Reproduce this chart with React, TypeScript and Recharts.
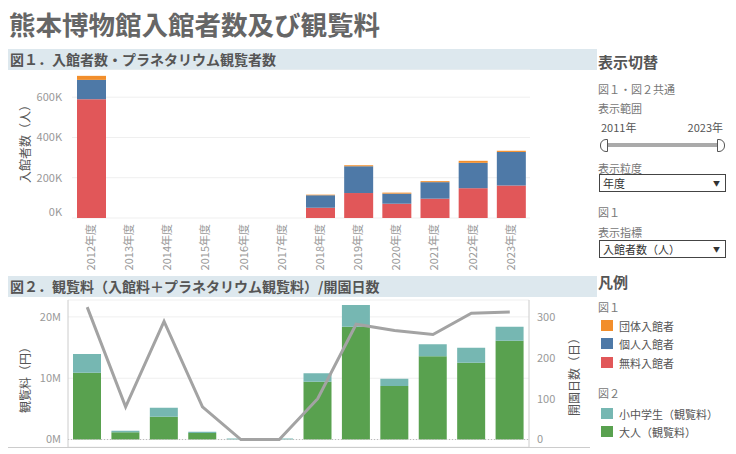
import React from 'react';
import {
  BarChart, Bar, XAxis, YAxis, CartesianGrid, ComposedChart, Line, ReferenceLine,
} from 'recharts';

const years = ['2012年度', '2013年度', '2014年度', '2015年度', '2016年度', '2017年度', '2018年度', '2019年度', '2020年度', '2021年度', '2022年度', '2023年度'];

// 図1 (people)
const freeVisitors = [590000, 0, 0, 0, 0, 0, 51000, 124000, 71000, 96000, 148000, 161000];
const individualVisitors = [96000, 0, 0, 0, 0, 0, 62000, 133000, 50000, 82000, 126000, 167000];
const groupVisitors = [20000, 0, 0, 0, 0, 0, 3000, 5000, 5000, 5000, 10000, 6000];

// 図2 (yen, days)
const adultFees = [10900000, 1170000, 3720000, 1060000, 0, 0, 9430000, 18400000, 8730000, 13600000, 12530000, 16100000];
const childFees = [3050000, 270000, 1470000, 210000, 150000, 150000, 1370000, 3540000, 1190000, 1960000, 2450000, 2300000];
const openDays = [324, 80, 289, 80, 0, 0, 100, 282, 267, 257, 309, 312];

const visitorTicks = [0, 200000, 400000, 600000];
const feeTicks = [0, 10000000, 20000000];
const dayTicks = [0, 100, 200, 300];

const C_ORANGE = '#f28e2b';
const C_BLUE = '#4e79a7';
const C_RED = '#e15759';
const C_TEAL = '#76b7b2';
const C_GREEN = '#59a14f';
const C_LINE = '#a3a3a3';

const FONT = '"Noto Sans CJK JP", "Noto Sans", sans-serif';

const data1 = years.map((y, i) => ({
  year: y,
  free: freeVisitors[i],
  individual: individualVisitors[i],
  group: groupVisitors[i],
}));

const data2 = years.map((y, i) => ({
  year: y,
  adult: adultFees[i],
  child: childFees[i],
  days: openDays[i],
}));

const RotTick = (props: any) => {
  const { x, y, payload, off } = props;
  const yy = y + (off || 0);
  return (
    <text
      x={x}
      y={yy}
      transform={`rotate(-90, ${x}, ${yy})`}
      textAnchor="end"
      dy="0.35em"
      fontSize={11}
      fill="#999"
      fontFamily={FONT}
    >
      {payload.value}
    </text>
  );
};

const KTick = (props: any) => {
  const { x, y, payload } = props;
  const v = payload.value as number;
  return (
    <text x={x} y={v === 0 ? y - 6 : y} textAnchor="end" dy="0.35em" fontSize={11} fill="#999" fontFamily={FONT}>
      {`${v / 1000}K`}
    </text>
  );
};

const abs = (left: number, top: number, extra: any = {}) => ({
  position: 'absolute' as const,
  left,
  top,
  ...extra,
});

const Band = ({ top, text }: { top: number; text: string }) => (
  <div style={abs(8, top, { width: 589, height: 21, background: '#dde8ee' })}>
    <div style={{ position: 'absolute', left: 2, top: 0, lineHeight: '21px', fontSize: 14, fontWeight: 700, color: '#555', whiteSpace: 'nowrap' }}>{text}</div>
  </div>
);

const VLabel = ({ cx, cy, text }: { cx: number; cy: number; text: string }) => (
  <div
    style={abs(cx - 60, cy - 8, {
      width: 120,
      height: 16,
      lineHeight: '16px',
      textAlign: 'center',
      fontSize: 12,
      color: '#555',
      transform: 'rotate(-90deg)',
      whiteSpace: 'nowrap',
    })}
  >
    {text}
  </div>
);

const Small = ({ left, top, text, size = 11, color = '#777', bold = false }: any) => (
  <div style={abs(left, top, { fontSize: size, color, fontWeight: bold ? 700 : 400, whiteSpace: 'nowrap', lineHeight: '16px' })}>{text}</div>
);

const Dropdown = ({ top, text }: { top: number; text: string }) => (
  <div style={abs(599, top, { width: 125, height: 16, border: '1px solid #444', background: '#fff' })}>
    <div style={{ position: 'absolute', left: 3, top: 0, fontSize: 11, lineHeight: '16px', color: '#333', whiteSpace: 'nowrap' }}>{text}</div>
    <div style={{ position: 'absolute', right: 5, top: 0, fontSize: 7, lineHeight: '16px', color: '#333' }}>▼</div>
  </div>
);

const Swatch = ({ top, color, text }: { top: number; color: string; text: string }) => (
  <>
    <div style={abs(601, top - 6, { width: 12, height: 11, background: color })} />
    <div style={abs(619, top - 8, { fontSize: 11, color: '#555', lineHeight: '16px', whiteSpace: 'nowrap' })}>{text}</div>
  </>
);

export default function App() {
  return (
    <div style={{ position: 'absolute', left: 0, top: 0, width: 736, height: 454, overflow: 'hidden', background: '#fff', fontFamily: FONT }}>
      {/* Title */}
      <div style={abs(9, 6, { fontSize: 26.5, fontWeight: 700, color: '#666', lineHeight: '36px', whiteSpace: 'nowrap' })}>
        熊本博物館入館者数及び観覧料
      </div>

      <Band top={49} text="図１．入館者数・プラネタリウム観覧者数" />
      <Band top={276} text="図２．観覧料（入館料＋プラネタリウム観覧料）/開園日数" />

      {/* Chart 1 */}
      <div style={abs(0, 69)}>
        <BarChart width={540} height={207} data={data1} margin={{ top: 0, right: 10, left: 0, bottom: 0 }} barSize={29}>
          <CartesianGrid vertical={false} stroke="#efefef" />
          <XAxis
            dataKey="year"
            height={58}
            axisLine={false}
            tickLine={false}
            tickSize={0}
            interval={0}
            tick={<RotTick off={4} />}
          />
          <YAxis
            width={72}
            domain={[0, 740000]}
            ticks={visitorTicks}
            allowDataOverflow
            axisLine={false}
            tickLine={false}
            tickSize={0}
            tickMargin={10}
            tick={<KTick />}
          />
          <Bar dataKey="free" stackId="a" fill={C_RED} isAnimationActive={false} />
          <Bar dataKey="individual" stackId="a" fill={C_BLUE} isAnimationActive={false} />
          <Bar dataKey="group" stackId="a" fill={C_ORANGE} isAnimationActive={false} />
        </BarChart>
      </div>
      <VLabel cx={25} cy={141} text="入館者数（人）" />

      {/* Chart 2 */}
      <div style={abs(0, 297)}>
        <ComposedChart width={597} height={200} data={data2} margin={{ top: 3, right: 0, left: 0, bottom: 0 }} barSize={28}>
          <CartesianGrid vertical={false} yAxisId="left" stroke="#efefef" />
          <XAxis
            dataKey="year"
            height={50}
            axisLine={false}
            tickLine={false}
            tickSize={0}
            interval={0}
            tick={<RotTick off={5} />}
          />
          <YAxis
            yAxisId="left"
            width={68}
            domain={[-1220000, 22760000]}
            ticks={feeTicks}
            allowDataOverflow
            axisLine={{ stroke: '#ccc' }}
            tickLine={false}
            tickSize={0}
            tickMargin={7}
            tick={{ fontSize: 11, fill: '#999', fontFamily: FONT }}
            tickFormatter={(v: number) => `${v / 1000000}M`}
          />
          <YAxis
            yAxisId="right"
            orientation="right"
            width={68}
            domain={[-18.3, 341.4]}
            ticks={dayTicks}
            allowDataOverflow
            axisLine={{ stroke: '#ccc' }}
            tickLine={false}
            tickSize={0}
            tickMargin={8}
            tick={{ fontSize: 11, fill: '#999', fontFamily: FONT }}
          />
          <ReferenceLine yAxisId="left" y={0} stroke="#bbb" strokeDasharray="1 2" />
          <Bar yAxisId="left" dataKey="adult" stackId="b" fill={C_GREEN} isAnimationActive={false} />
          <Bar yAxisId="left" dataKey="child" stackId="b" fill={C_TEAL} isAnimationActive={false} />
          <Line yAxisId="right" dataKey="days" type="linear" stroke={C_LINE} strokeWidth={3} dot={false} activeDot={false} isAnimationActive={false} />
        </ComposedChart>
      </div>
      <div style={abs(8, 447, { width: 582, height: 1, background: '#ccc' })} />
      <VLabel cx={25} cy={377} text="観覧料（円）" />
      <VLabel cx={574} cy={374} text="開園日数（日）" />

      {/* Right panel */}
      <Small left={598} top={54} text="表示切替" size={15} color="#555" bold />
      <Small left={598} top={81} text="図１・図２共通" />
      <Small left={598} top={100} text="表示範囲" />
      <Small left={601} top={119} text="2011年" color="#555" />
      <div style={abs(680, 119, { width: 43, textAlign: 'right', fontSize: 11, color: '#555', lineHeight: '16px' })}>2023年</div>
      <div style={abs(604, 143, { width: 116, height: 4, background: '#aaa' })} />
      <div style={abs(600, 139, { width: 6, height: 11, border: '1px solid #555', borderRadius: '6px 0 0 6px', background: '#fff' })} />
      <div style={abs(717, 139, { width: 6, height: 11, border: '1px solid #555', borderRadius: '0 6px 6px 0', background: '#fff' })} />
      <Small left={598} top={160} text="表示粒度" />
      <Dropdown top={174} text="年度" />
      <Small left={598} top={204} text="図１" />
      <Small left={598} top={224} text="表示指標" />
      <Dropdown top={240} text="入館者数（人）" />

      <Small left={598} top={274} text="凡例" size={15} color="#555" bold />
      <Small left={598} top={299} text="図１" />
      <Swatch top={326} color={C_ORANGE} text="団体入館者" />
      <Swatch top={344} color={C_BLUE} text="個人入館者" />
      <Swatch top={363} color={C_RED} text="無料入館者" />
      <Small left={598} top={385} text="図２" />
      <Swatch top={414} color={C_TEAL} text="小中学生（観覧料）" />
      <Swatch top={432} color={C_GREEN} text="大人（観覧料）" />
    </div>
  );
}
